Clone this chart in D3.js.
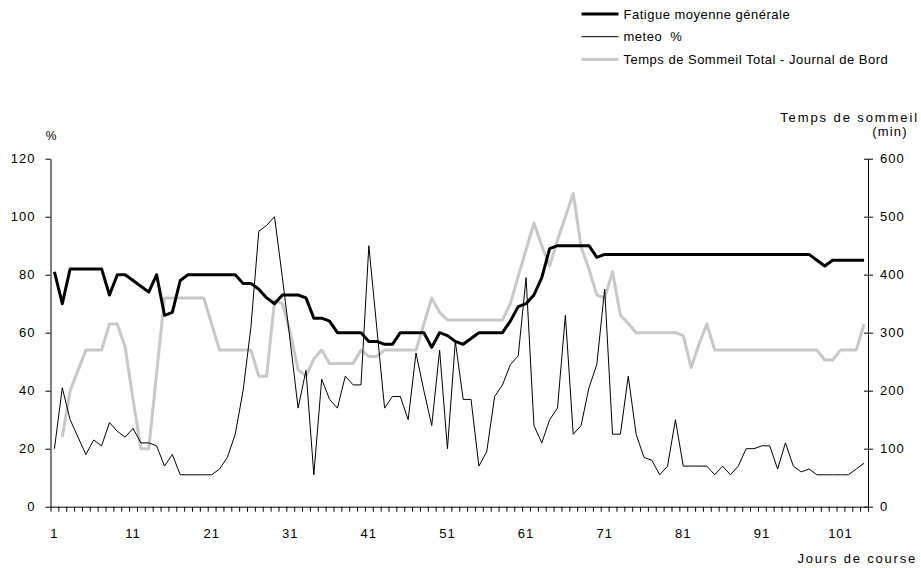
<!DOCTYPE html>
<html>
<head>
<meta charset="utf-8">
<script src="https://cdn.jsdelivr.net/npm/d3@7"></script>
<style>
  html, body { margin: 0; background: #fff; }
  svg text { font-family: "Liberation Sans", Arial, sans-serif; fill: #000; }
</style>
</head>
<body>
<svg id="chart" width="921" height="568"></svg>
<script>
// Jours de course 1..104
const days = d3.range(1, 105);

const fatigue = [
  81, 70, 82, 82, 82, 82, 82, 73, 80, 80,
  78, 76, 74, 80, 66, 67, 78, 80, 80, 80,
  80, 80, 80, 80, 77, 77, 75, 72, 70, 73,
  73, 73, 72, 65, 65, 64, 60, 60, 60, 60,
  57, 57, 56, 56, 60, 60, 60, 60, 55, 60,
  59, 57, 56, 58, 60, 60, 60, 60, 64, 69,
  70, 73, 79, 89, 90, 90, 90, 90, 90, 86,
  87, 87, 87, 87, 87, 87, 87, 87, 87, 87,
  87, 87, 87, 87, 87, 87, 87, 87, 87, 87,
  87, 87, 87, 87, 87, 87, 87, 85, 83, 85,
  85, 85, 85, 85
];

const meteo = [
  20, 41, 30, 24, 18, 23, 21, 29, 26, 24,
  27, 22, 22, 21, 14, 18, 11, 11, 11, 11,
  11, 13, 17, 25, 40, 62, 95, 97, 100, 79,
  57, 34, 47, 11, 44, 37, 34, 45, 42, 42,
  90, 62, 34, 38, 38, 30, 53, 40, 28, 54,
  20, 57, 37, 37, 14, 19, 38, 42, 49, 52,
  79, 28, 22, 30, 34, 66, 25, 28, 41, 49,
  75, 25, 25, 45, 25, 17, 16, 11, 14, 30,
  14, 14, 14, 14, 11, 14, 11, 14, 20, 20,
  21, 21, 13, 22, 14, 12, 13, 11, 11, 11,
  11, 11, 13, 15
];

// minutes, right axis
const sommeil = [
  null, 120, 200, 235, 270, 270, 270, 315, 315, 275,
  185, 100, 100, 230, 360, 360, 360, 360, 360, 360,
  315, 270, 270, 270, 270, 270, 225, 225, 355, 350,
  300, 236, 225, 255, 270, 247, 247, 247, 247, 270,
  259, 259, 270, 270, 270, 270, 270, 315, 360, 335,
  322, 322, 322, 322, 322, 322, 322, 322, 350, 397,
  443, 489, 450, 415, 460, 500, 540, 448, 410, 365,
  360, 405, 330, 316, 300, 300, 300, 300, 300, 300,
  295, 240, 280, 315, 270, 270, 270, 270, 270, 270,
  270, 270, 270, 270, 270, 270, 270, 270, 253, 253,
  270, 270, 270, 315
];

const leftTicks = [0, 20, 40, 60, 80, 100, 120];
const rightTicks = [0, 100, 200, 300, 400, 500, 600];
const dayLabels = [1, 11, 21, 31, 41, 51, 61, 71, 81, 91, 101];

const legendItems = [
  { label: 'Fatigue moyenne générale', color: '#000', width: 3 },
  { label: 'meteo\u00a0 %', color: '#000', width: 1 },
  { label: 'Temps de Sommeil Total - Journal de Bord', color: '#c8c8c8', width: 3 },
];

const svg = d3.select('#chart');
const plotL = 50.5, plotR = 868, plotT = 158.7, plotB = 506.7;

const x = d3.scaleBand().domain(days).range([plotL, plotR]).padding(0);
const cx = (d) => x(d) + x.bandwidth() / 2;
const yL = d3.scaleLinear().domain([0, 120]).range([plotB, plotT]);
const yR = d3.scaleLinear().domain([0, 600]).range([plotB, plotT]);

// Series
const lineL = (vals) => d3.line()
  .defined((d, i) => vals[i] != null)
  .x((d) => cx(d))
  .y((d, i) => yL(vals[i]))(days);
const lineR = (vals) => d3.line()
  .defined((d, i) => vals[i] != null)
  .x((d) => cx(d))
  .y((d, i) => yR(vals[i]))(days);

svg.append('path').attr('d', lineR(sommeil))
  .attr('fill', 'none').attr('stroke', '#c8c8c8').attr('stroke-width', 3)
  .attr('stroke-linejoin', 'round');
svg.append('path').attr('d', lineL(fatigue))
  .attr('fill', 'none').attr('stroke', '#000').attr('stroke-width', 3)
  .attr('stroke-linejoin', 'round');
svg.append('path').attr('d', lineL(meteo))
  .attr('fill', 'none').attr('stroke', '#000').attr('stroke-width', 1);

// Axes
const tickFont = (g) => g.selectAll('text')
  .attr('font-size', 13).style('letter-spacing', '1px')
  .attr('font-family', '"Liberation Sans", Arial, sans-serif').attr('fill', '#000');

const gL = svg.append('g').attr('transform', `translate(${plotL},0)`)
  .call(d3.axisLeft(yL).tickValues(leftTicks).tickSize(5).tickPadding(10).tickSizeOuter(0));
gL.select('.domain').attr('stroke', '#000');
gL.selectAll('line').attr('stroke', '#000');
tickFont(gL);

const gR = svg.append('g').attr('transform', `translate(${plotR},0)`)
  .call(d3.axisRight(yR).tickValues(rightTicks).tickSize(5).tickPadding(7).tickSizeOuter(0));
gR.select('.domain').attr('stroke', '#000');
gR.selectAll('.tick line').attr('x1', -4).attr('x2', 5).attr('stroke', '#000');
tickFont(gR);

// category tick marks between days
const xb = d3.scaleLinear().domain([0.5, 104.5]).range([plotL, plotR]);
const gX = svg.append('g').attr('transform', `translate(0,${plotB})`)
  .call(d3.axisBottom(xb).tickValues(d3.range(0.5, 105, 1)).tickSize(5).tickFormat('').tickSizeOuter(0));
gX.select('.domain').attr('stroke', '#000');
gX.selectAll('line').attr('stroke', '#000');

// band axis already centres its labels on each day
const gXL = svg.append('g').attr('transform', `translate(0,${plotB})`)
  .call(d3.axisBottom(x).tickValues(dayLabels).tickSize(0).tickPadding(22));
gXL.select('.domain').remove();
tickFont(gXL);

// Axis titles
svg.append('text').attr('x', 51).attr('y', 140).attr('text-anchor', 'middle')
  .attr('font-size', 12).text('%');
svg.append('text').attr('x', 919).attr('y', 122).attr('text-anchor', 'end')
  .attr('font-size', 13).style('letter-spacing', '1.9px').text('Temps de sommeil');
svg.append('text').attr('x', 890).attr('y', 136).attr('text-anchor', 'middle')
  .attr('font-size', 13).style('letter-spacing', '1.2px').text('(min)');
svg.append('text').attr('x', 917).attr('y', 563).attr('text-anchor', 'end')
  .attr('font-size', 13).style('letter-spacing', '1.8px').text('Jours de course');

// Legend
const lg = svg.append('g').selectAll('g').data(legendItems).join('g')
  .attr('transform', (d, i) => `translate(581.5,${14 + i * 22.7})`);
lg.append('line').attr('x1', 0).attr('x2', 37)
  .attr('stroke', (d) => d.color).attr('stroke-width', (d) => d.width);
lg.append('text').attr('x', 42).attr('dy', '0.35em')
  .attr('font-size', 13).style('letter-spacing', '0.5px').text((d) => d.label);
</script>
</body>
</html>
